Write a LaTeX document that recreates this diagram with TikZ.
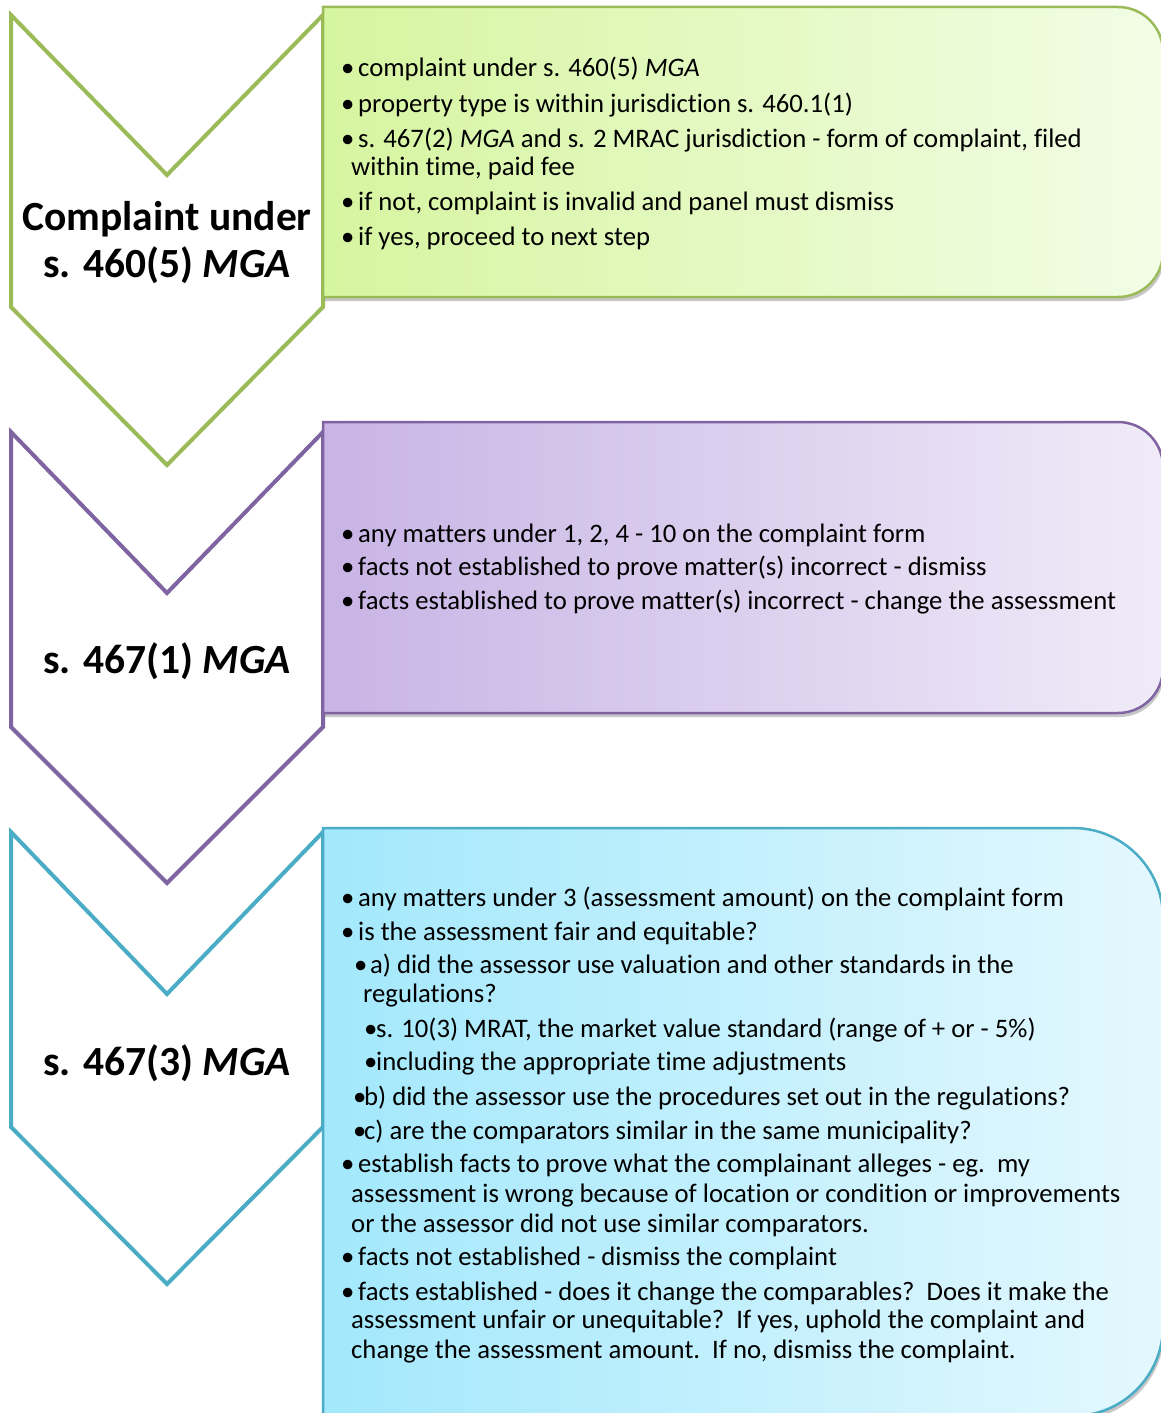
\documentclass[tikz,border=0pt]{standalone}
\usepackage{fontspec}
\setmainfont{Carlito}[Ligatures=NoCommon]
\usetikzlibrary{shadows}
\definecolor{gline}{HTML}{9BBB59}
\definecolor{gleft}{HTML}{D6F5A0}
\definecolor{gright}{HTML}{F2FDE6}
\definecolor{pline}{HTML}{8064A2}
\definecolor{pleft}{HTML}{C8B4E5}
\definecolor{pright}{HTML}{F0EBF8}
\definecolor{bline}{HTML}{4BACC6}
\definecolor{bleft}{HTML}{A3E8FC}
\definecolor{bright}{HTML}{E4F8FE}
\newcommand\bul[2]{\makebox[#1pt][l]{•}#2}
\tikzset{
  chev/.style={fill=white, line width=4pt, line join=miter},
  infobox/.style={line width=2.5pt, drop shadow={shadow xshift=1.5pt, shadow yshift=-4pt, opacity=0.22, fill=black}},
  head/.style={font=\fontsize{41.5}{48}\selectfont\bfseries, align=center, inner sep=0pt},
  txt/.style={font=\fontsize{26.7}{31}\selectfont, anchor=base west, inner sep=0pt}
}
\begin{document}
\begin{tikzpicture}[x=1pt,y=-1pt]
\useasboundingbox (0,0) rectangle (1161,1413);
\fill[white] (0,0) rectangle (1161,1413);
% chevrons
\draw[chev, draw=bline] (11,832) -- (167,994) -- (323,832) -- (323,1127) -- (167,1284) -- (11,1127) -- cycle;
\draw[chev, draw=pline] (11,432) -- (167,593) -- (323,432) -- (323,727) -- (167,883) -- (11,727) -- cycle;
\draw[chev, draw=gline] (11,15) -- (167,175) -- (323,15) -- (323,307) -- (167,465) -- (11,307) -- cycle;
% boxes
\path[infobox, draw=gline, left color=gleft, right color=gright]
  (323,7) -- (1118,7) arc[start angle=90,end angle=0,radius=45pt] -- (1163,252) arc[start angle=0,end angle=-90,radius=45pt] -- (323,297) -- cycle;
\path[infobox, draw=pline, left color=pleft, right color=pright]
  (323,422) -- (1118,422) arc[start angle=90,end angle=0,radius=45pt] -- (1163,668) arc[start angle=0,end angle=-90,radius=45pt] -- (323,713) -- cycle;
\path[infobox, draw=bline, left color=bleft, right color=bright]
  (323,828) -- (1073,828) arc[start angle=90,end angle=0,radius=90pt] -- (1163,1326) arc[start angle=0,end angle=-90,radius=90pt] -- (323,1416) -- cycle;
% headings
\node[head, anchor=base] (h1a) at (167,230) {Complaint under};
\node[head, anchor=base] (h1b) at (167,277) {s. 460(5) \textit{MGA}};
\node[head, anchor=base] (h2) at (167,673) {s. 467(1) \textit{MGA}};
\node[head, anchor=base] (h3) at (167,1075) {s. 467(3) \textit{MGA}};
% box 1 text
\node[txt] (a1) at (341,77) {\bul{17}{complaint under s. 460(5) \textit{MGA}}};
\node[txt] (a2) at (341,112) {\bul{17}{property type is within jurisdiction s. 460.1(1)}};
\node[txt] (a3) at (341,147) {\bul{17}{s. 467(2) \textit{MGA} and s. 2 MRAC jurisdiction - form of complaint, filed}};
\node[txt] (a3b) at (351,175) {within time, paid fee};
\node[txt] (a4) at (341,210) {\bul{17}{if not, complaint is invalid and panel must dismiss}};
\node[txt] (a5) at (341,245) {\bul{17}{if yes, proceed to next step}};
% box 2 text
\node[txt] (b1) at (341,542) {\bul{17}{any matters under 1, 2, 4 - 10 on the complaint form}};
\node[txt] (b2) at (341,575) {\bul{17}{facts not established to prove matter(s) incorrect - dismiss}};
\node[txt] (b3) at (341,609) {\bul{17}{facts established to prove matter(s) incorrect - change the assessment}};
% box 3 text
\node[txt] (c1) at (341,906) {\bul{17}{any matters under 3 (assessment amount) on the complaint form}};
\node[txt] (c2) at (341,940) {\bul{17}{is the assessment fair and equitable?}};
\node[txt] (c3) at (354,973) {\bul{16}{a) did the assessor use valuation and other standards in the}};
\node[txt] (c3b) at (363,1002) {regulations?};
\node[txt] (c4) at (364,1037) {\bul{12}{s. 10(3) MRAT, the market value standard (range of + or - 5\%)}};
\node[txt] (c5) at (364,1070) {\bul{12}{including the appropriate time adjustments}};
\node[txt] (c6) at (353,1105) {\bul{11}{b) did the assessor use the procedures set out in the regulations?}};
\node[txt] (c7) at (353,1139) {\bul{11}{c) are the comparators similar in the same municipality?}};
\node[txt] (c8) at (341,1172) {\bul{17}{establish facts to prove what the complainant alleges - eg.\ \ my}};
\node[txt] (c8b) at (351,1202) {assessment is wrong because of location or condition or improvements};
\node[txt] (c8c) at (351,1232) {or the assessor did not use similar comparators.};
\node[txt] (c9) at (341,1265) {\bul{17}{facts not established - dismiss the complaint}};
\node[txt] (c10) at (341,1300) {\bul{17}{facts established - does it change the comparables?\ \ Does it make the}};
\node[txt] (c10b) at (351,1328) {assessment unfair or unequitable?\ \ If yes, uphold the complaint and};
\node[txt] (c10c) at (351,1358) {change the assessment amount.\ \ If no, dismiss the complaint.};
\end{tikzpicture}
\end{document}
